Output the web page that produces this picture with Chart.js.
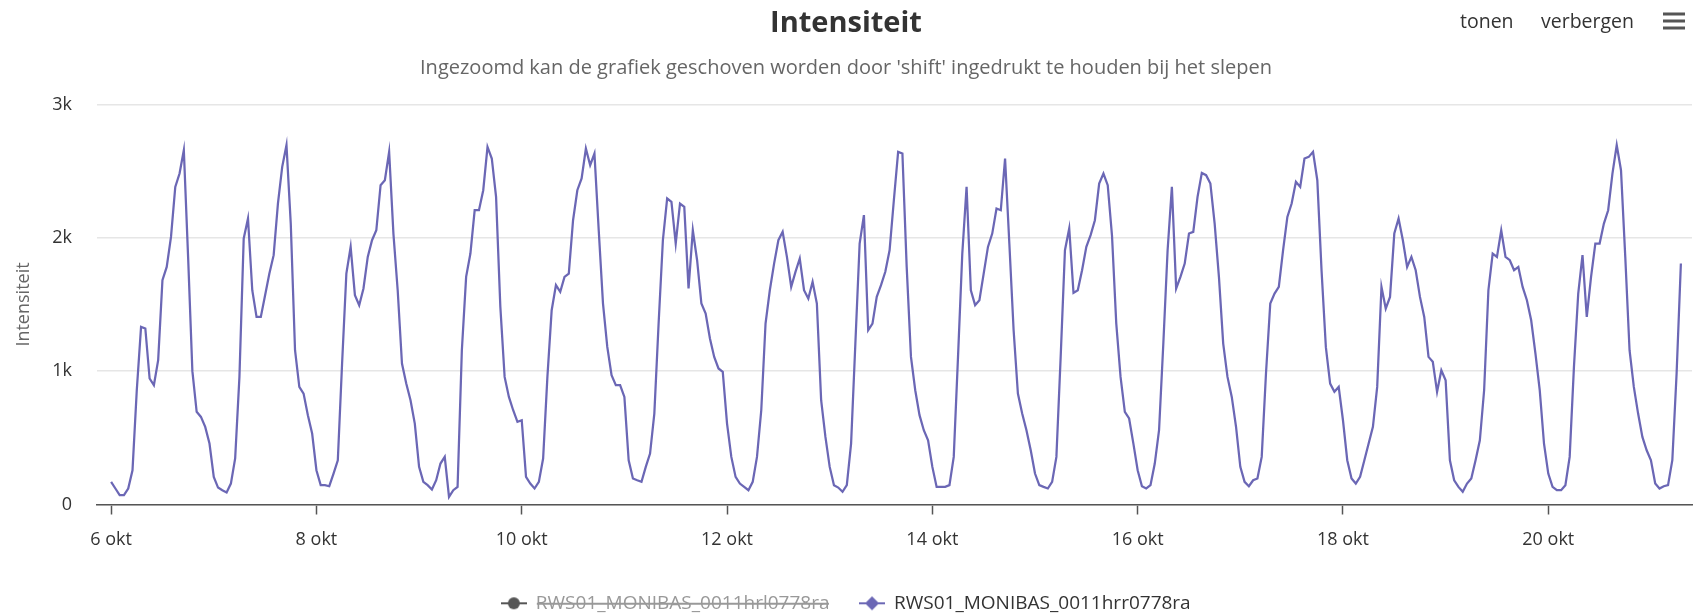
<!DOCTYPE html>
<html>
<head>
<meta charset="utf-8">
<title>Intensiteit</title>
<script src="https://cdn.jsdelivr.net/npm/chart.js@4/dist/chart.umd.min.js"></script>
<style>
  body { margin: 0; background: #fff; }
  #wrap { width: 1693px; height: 616px; }
</style>
</head>
<body>
<div id="wrap"><canvas id="intensiteit" width="1693" height="616"></canvas></div>
<script>
// Uurwaarden vanaf 6 okt 00:00, een regel per dag
var intensiteit = [
    170, 120, 70, 70, 120, 257, 857, 1332, 1320, 945, 895, 1082, 1682, 1782, 2007, 2382, 2482, 2657, 1857, 1000, 695, 657, 582, 457,
    207, 127, 107, 90, 157, 345, 957, 1995, 2145, 1607, 1407, 1407, 1570, 1732, 1870, 2257, 2532, 2695, 2107, 1157, 882, 832, 670, 532,
    257, 145, 145, 137, 232, 332, 1057, 1732, 1932, 1570, 1495, 1620, 1857, 1982, 2057, 2395, 2432, 2645, 2032, 1607, 1057, 907, 782, 607,
    282, 170, 145, 112, 182, 307, 357, 57, 107, 132, 1157, 1707, 1882, 2207, 2207, 2357, 2682, 2595, 2307, 1482, 957, 807, 707, 620,
    632, 207, 157, 120, 170, 345, 957, 1457, 1645, 1595, 1707, 1732, 2132, 2357, 2445, 2670, 2545, 2632, 2057, 1507, 1182, 970, 895, 895,
    807, 332, 195, 182, 170, 282, 382, 682, 1357, 1982, 2295, 2270, 1957, 2257, 2232, 1620, 2057, 1832, 1507, 1432, 1245, 1107, 1020, 995,
    607, 357, 207, 157, 132, 107, 170, 357, 707, 1357, 1607, 1807, 1982, 2045, 1857, 1632, 1745, 1845, 1607, 1545, 1670, 1507, 782, 507,
    282, 145, 127, 95, 145, 457, 1207, 1957, 2170, 1307, 1357, 1557, 1645, 1745, 1907, 2282, 2645, 2632, 1782, 1107, 857, 670, 557, 482,
    282, 132, 132, 132, 145, 357, 1107, 1882, 2382, 1607, 1495, 1532, 1732, 1932, 2032, 2220, 2207, 2595, 1957, 1307, 832, 682, 557, 407,
    232, 145, 132, 120, 170, 357, 1107, 1907, 2070, 1587, 1607, 1757, 1932, 2020, 2132, 2407, 2482, 2395, 2017, 1357, 957, 695, 645, 457,
    257, 137, 120, 145, 307, 557, 1207, 1907, 2382, 1620, 1707, 1807, 2032, 2045, 2307, 2487, 2470, 2407, 2107, 1707, 1207, 957, 807, 582,
    282, 170, 137, 182, 195, 357, 982, 1507, 1582, 1632, 1907, 2157, 2257, 2420, 2382, 2595, 2607, 2645, 2432, 1750, 1180, 907, 845, 882,
    632, 332, 195, 157, 207, 332, 457, 582, 882, 1632, 1470, 1557, 2032, 2145, 1982, 1782, 1857, 1757, 1557, 1407, 1107, 1070, 845, 1007,
    932, 332, 182, 132, 95, 157, 195, 332, 482, 857, 1607, 1882, 1857, 2057, 1857, 1832, 1757, 1782, 1632, 1532, 1382, 1132, 857, 457,
    232, 132, 107, 107, 145, 357, 1032, 1582, 1870, 1407, 1707, 1957, 1957, 2107, 2207, 2482, 2695, 2507, 1857, 1157, 882, 682, 507, 407,
    332, 157, 120, 137, 145, 332, 982, 1807
];
// verborgen reeks, geen zichtbare waarden
var intensiteitHrl = [];

var reeksNamen = ["RWS01_MONIBAS_0011hrl0778ra", "RWS01_MONIBAS_0011hrr0778ra"];
var tickUren = [0, 48, 96, 144, 192, 240, 288, 336];
var tickLabels = ["6 okt", "8 okt", "10 okt", "12 okt", "14 okt", "16 okt", "18 okt", "20 okt"];

var lijnKleur = "#6b67b5";
var grijs = "#555555";
var fontNaam = "'Open Sans', 'Noto Sans', sans-serif";

// legendasymbool: lijnstuk met marker in het midden
function legendSymbool(kleur, vorm) {
    var c = document.createElement("canvas");
    c.width = 26; c.height = 16;
    var g = c.getContext("2d");
    g.strokeStyle = kleur; g.lineWidth = 2;
    g.beginPath(); g.moveTo(0, 8); g.lineTo(26, 8); g.stroke();
    g.fillStyle = kleur;
    g.beginPath();
    if (vorm === "circle") {
        g.arc(13, 8, 6, 0, Math.PI * 2);
    } else {
        g.moveTo(13, 1); g.lineTo(20, 8); g.lineTo(13, 15); g.lineTo(6, 8); g.closePath();
    }
    g.fill();
    return c;
}
var symbolen = [legendSymbool(grijs, "circle"), legendSymbool(lijnKleur, "diamond")];

// knoppen rechtsboven
var knoppen = {
    id: "knoppen",
    afterDraw: function(chart) {
        var ctx = chart.ctx;
        ctx.save();
        ctx.font = "19.5px " + fontNaam;
        ctx.fillStyle = "#333";
        ctx.textBaseline = "middle";
        ctx.textAlign = "left";
        ctx.fillText("tonen", 1460, 22);
        ctx.fillText("verbergen", 1541, 22);
        ctx.fillStyle = "#555";
        [14, 21, 28].forEach(function(y) {
            ctx.fillRect(1663, y - 1.5, 22, 3);
        });
        ctx.restore();
    }
};

var witteAchtergrond = {
    id: "witteAchtergrond",
    beforeDraw: function(chart) {
        var ctx = chart.ctx;
        ctx.save();
        ctx.fillStyle = "#fff";
        ctx.fillRect(0, 0, chart.width, chart.height);
        ctx.restore();
    }
};

Chart.defaults.font.family = fontNaam;

new Chart("intensiteit", {
    type: "line",
    data: {
        datasets: [{
            label: reeksNamen[0],
            data: intensiteitHrl,
            borderColor: grijs,
            hidden: true
        }, {
            label: reeksNamen[1],
            data: intensiteit.map(function(v, i) { return { x: i, y: v }; }),
            borderColor: lijnKleur,
            borderWidth: 2.25,
            pointRadius: 0,
            tension: 0
        }]
    },
    options: {
        responsive: false,
        animation: false,
        layout: { padding: { left: 0, right: 1, top: 0, bottom: -6.8 } },
        plugins: {
            title: {
                display: true,
                text: "Intensiteit",
                color: "#333",
                font: { size: 29, weight: "bold" },
                padding: { top: 6, bottom: 0 }
            },
            subtitle: {
                display: true,
                text: "Ingezoomd kan de grafiek geschoven worden door 'shift' ingedrukt te houden bij het slepen",
                color: "#666",
                font: { size: 20 },
                padding: { top: 15.6, bottom: 24.1 }
            },
            legend: {
                position: "bottom",
                labels: {
                    usePointStyle: true,
                    pointStyleWidth: 25,
                    padding: 30,
                    font: { size: 19 },
                    generateLabels: function(chart) {
                        return chart.data.datasets.map(function(ds, i) {
                            var verborgen = !chart.isDatasetVisible(i);
                            return {
                                text: ds.label,
                                datasetIndex: i,
                                hidden: verborgen,
                                pointStyle: symbolen[i],
                                fontColor: verborgen ? "#999" : "#333",
                                fillStyle: "transparent",
                                strokeStyle: "transparent",
                                lineWidth: 0
                            };
                        });
                    }
                }
            },
            tooltip: { enabled: false }
        },
        scales: {
            x: {
                type: "linear",
                min: -3.3,
                max: 369.6,
                afterBuildTicks: function(s) {
                    s.ticks = tickUren.map(function(v) { return { value: v }; });
                },
                afterFit: function(s) { s.height = 59.3; },
                ticks: {
                    autoSkip: false,
                    maxRotation: 0,
                    padding: 15,
                    color: "#333",
                    font: { size: 18 },
                    callback: function(v, i) { return tickLabels[i]; }
                },
                grid: {
                    drawOnChartArea: false,
                    tickLength: 10,
                    tickColor: grijs,
                    tickWidth: 1.5
                },
                border: { color: grijs, width: 1.5 }
            },
            y: {
                min: 0,
                max: 3000,
                afterFit: function(s) { s.width = 97; },
                ticks: {
                    stepSize: 1000,
                    padding: 25,
                    color: "#333",
                    font: { size: 18 },
                    callback: function(v) { return v === 0 ? "0" : (v / 1000) + "k"; }
                },
                grid: { color: "#e6e6e6", lineWidth: 1.5, drawTicks: false },
                border: { display: false },
                title: {
                    display: true,
                    text: "Intensiteit",
                    color: "#666",
                    font: { size: 18 },
                    padding: { top: 13, bottom: 0 }
                }
            }
        }
    },
    plugins: [witteAchtergrond, knoppen]
});
</script>
</body>
</html>
